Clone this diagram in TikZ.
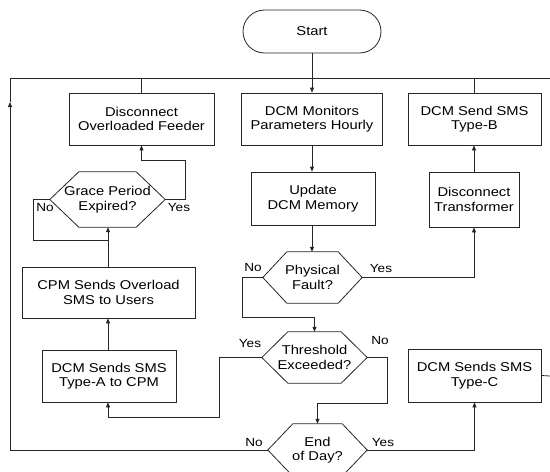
\documentclass[tikz,border=0pt]{standalone}
\usepackage{fontspec}
\setmainfont[FakeStretch=1.15]{Liberation Sans}
\usetikzlibrary{arrows.meta,shapes.misc}
\newcommand\hexdraw[2]{\draw[ln] (#1.west) -- ([xshift=#2]#1.north west) -- ([xshift=-#2]#1.north east) -- (#1.east) -- ([xshift=-#2]#1.south east) -- ([xshift=#2]#1.south west) -- cycle;}
\begin{document}
\begin{tikzpicture}[x=1pt,y=-1pt,
  font=\fontsize{12.8}{14.5}\selectfont,
  ln/.style={line width=0.8pt, draw=black!85},
  box/.style={ln, draw, align=center, inner sep=0pt},
  hexa/.style={align=center, inner sep=0pt},
  term/.style={ln, draw, rounded rectangle, align=center, inner sep=0pt},
  arr/.style={-{Triangle[length=5pt,width=4pt]}},
  lbl/.style={font=\fontsize{11.8}{13}\selectfont}]
\useasboundingbox (0,0) rectangle (550,472);

\node[term, minimum width=138, minimum height=43] (start) at (312,31.5) {Start};
\node[box, minimum width=145, minimum height=52] (feed) at (141.5,119) {Disconnect\\Overloaded Feeder};
\node[box, minimum width=141, minimum height=52] (mon) at (312,119) {DCM Monitors\\Parameters Hourly};
\node[box, minimum width=133, minimum height=52] (typeb) at (474.5,119) {DCM Send SMS\\Type-B};
\node[box, minimum width=124, minimum height=53] (upd) at (313,198.5) {Update\\DCM Memory};
\node[box, minimum width=90, minimum height=55] (trans) at (474,199.5) {Disconnect\\Transformer};
\node[hexa, minimum width=115, minimum height=55] (grace) at (107.5,199.5) {Grace Period\\Expired?};
\node[hexa, minimum width=99, minimum height=51] (phys) at (312.5,277.5) {Physical\\Fault?};
\node[box, minimum width=173, minimum height=51] (cpm) at (108.5,292.5) {CPM Sends Overload\\SMS to Users};
\node[hexa, minimum width=105, minimum height=51] (thr) at (314.5,357.5) {Threshold\\Exceeded?};
\node[box, minimum width=134, minimum height=52] (typea) at (109,376) {DCM Sends SMS\\Type-A to CPM};
\node[box, minimum width=133, minimum height=53] (typec) at (474.5,375.5) {DCM Sends SMS\\Type-C};
\node[hexa, minimum width=99, minimum height=52] (eod) at (317.5,450) {End\\of Day?};

\hexdraw{grace}{29pt}
\hexdraw{phys}{24pt}
\hexdraw{thr}{26pt}
\hexdraw{eod}{25pt}

\coordinate (tl) at (10,78);
\coordinate (tr) at (550,78);
\coordinate (bl) at (10,450);
\coordinate (la) at (10,102);
\coordinate (ce) at (550,376);
\coordinate (pj) at (242,317);
\coordinate (yj) at (219,417);
\coordinate (nj) at (387,403);
\coordinate (gy) at (185,160);
\coordinate (gn) at (33,240);
\coordinate (gn2) at (108,240);

\draw[ln] (tl) -- (tr);
\draw[ln,arr] (start.south) -- (start.south |- mon.north);
\draw[ln] (feed.north) -- (feed.north |- tl);
\draw[ln] (typeb.north) -- (typeb.north |- tl);
\draw[ln,arr] (mon.south) -- (mon.south |- upd.north);
\draw[ln,arr] (upd.south -| mon.south) -- (mon.south |- phys.north);
\draw[ln,arr] (phys.east) -| (trans.south);
\draw[ln,arr] (trans.north) -- (trans.north |- typeb.south);
\draw[ln,arr] (phys.west) -| (pj) -| (thr.north);
\draw[ln,arr] (thr.west) -| (yj) -| (gn2 |- typea.south);
\draw[ln,arr] (thr.east) -| (nj) -| (eod.north);
\draw[ln,arr] (eod.east) -| (typec.south);
\draw[ln,arr] (gn2 |- typea.north) -- (gn2 |- cpm.south);
\draw[ln,arr] (gn2 |- cpm.north) -- (gn2 |- grace.south);
\draw[ln,arr] (grace.east) -| (gy) -| (feed.south);
\draw[ln] (grace.west) -| (gn) -- (gn2);
\draw[ln] (eod.west) -- (bl);
\draw[ln,arr] (bl) -- (la);
\draw[ln] (la) -- (tl);
\draw[ln] (typec.east) -- (ce);

\node[lbl] (l1) at (45,207) {No};
\node[lbl] (l2) at (179,207) {Yes};
\node[lbl] (l3) at (253,267) {No};
\node[lbl] (l4) at (381,268) {Yes};
\node[lbl] (l5) at (250,343) {Yes};
\node[lbl] (l6) at (380,340) {No};
\node[lbl] (l7) at (254,442) {No};
\node[lbl] (l8) at (383,442) {Yes};
\end{tikzpicture}
\end{document}
